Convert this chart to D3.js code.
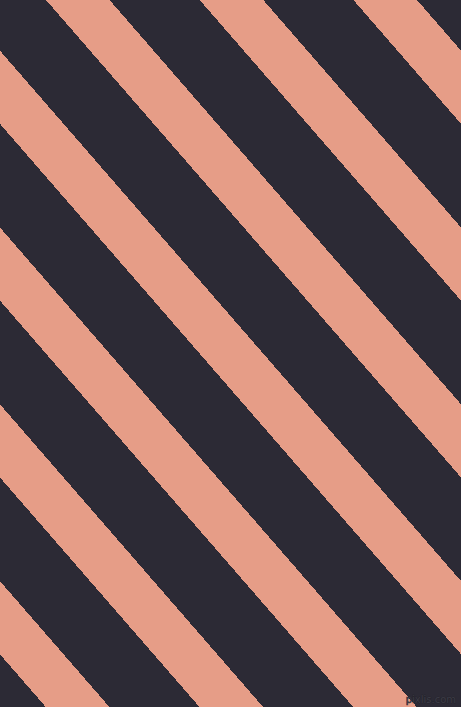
<!DOCTYPE html>
<html>
<head>
<meta charset="utf-8">
<script src="https://cdn.jsdelivr.net/npm/d3@7"></script>
<style>
  html, body { margin: 0; padding: 0; background: #2c2a35; overflow: hidden; }
  svg { display: block; }
</style>
</head>
<body>
<script>
// Stripe data: index of each salmon band (counted along the repeat direction)
const stripeIndex = [-5, -4, -3, -2, -1, 0, 1, 2, 3];
// Band colours: background band, stripe band
const bandColors = ["#2c2a35", "#e69d87"];
// Watermark text
const watermark = ["pixlis.com"];

const W = 461, H = 707;
const angle = 131;                 // stripe angle (degrees)
const period = 116;                // repeat perpendicular to stripes
const stripeWidth = 48;            // salmon band width perpendicular
const offsetTop = 46;              // left edge of band 0 at y = 0

const theta = (180 - angle) * Math.PI / 180;
const sinT = Math.sin(theta);
const periodX = period / sinT;          // horizontal repeat
const widthX = stripeWidth / sinT;      // horizontal band width
const slope = 1 / Math.tan(theta);      // dx per dy

const x = d3.scaleLinear().domain([0, 1]).range([offsetTop, offsetTop + periodX]);
const y = d3.scaleLinear().domain([0, 1]).range([0, H]);

const svg = d3.select("body").append("svg")
  .attr("width", W).attr("height", H);

svg.append("rect")
  .attr("width", W).attr("height", H)
  .attr("fill", bandColors[0]);

const line = d3.line();
svg.append("g").selectAll("path")
  .data(stripeIndex)
  .join("path")
  .attr("fill", bandColors[1])
  .attr("shape-rendering", "crispEdges")
  .attr("d", k => {
    const x0 = x(k);
    const dx = slope * (y(1) - y(0));
    return line([
      [x0, y(0)],
      [x0 + widthX, y(0)],
      [x0 + widthX + dx, y(1)],
      [x0 + dx, y(1)]
    ]) + "Z";
  });

svg.append("g").selectAll("text")
  .data(watermark)
  .join("text")
  .attr("x", W - 5)
  .attr("y", H - 4)
  .attr("text-anchor", "end")
  .attr("font-family", "DejaVu Sans, sans-serif")
  .attr("font-size", 10)
  .attr("fill", "#3d3c46")
  .attr("stroke", "#1f1e26")
  .attr("stroke-width", 0.6)
  .attr("paint-order", "stroke")
  .text(d => d);
</script>
</body>
</html>
